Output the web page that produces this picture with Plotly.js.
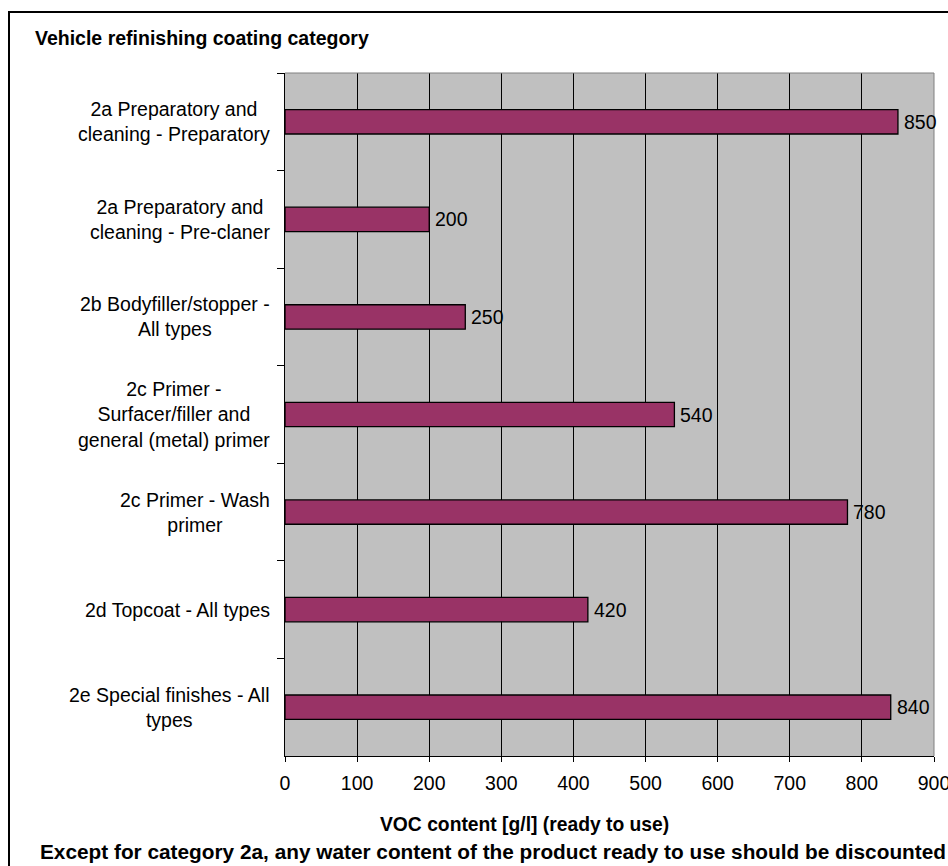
<!DOCTYPE html>
<html>
<head>
<meta charset="utf-8">
<script src="https://cdn.plot.ly/plotly-3.0.1.min.js"></script>
<style>
  html, body { margin: 0; padding: 0; background: #ffffff; overflow: hidden; }
  #chart { width: 948px; height: 866px; }
</style>
</head>
<body>
<div id="chart"></div>
<script>
// Maximum VOC content per vehicle refinishing coating category
const categories = [
  "2a Preparatory and<br>cleaning - Preparatory",
  "2a Preparatory and<br>cleaning - Pre-claner",
  "2b Bodyfiller/stopper -<br>All types",
  "2c Primer -<br>Surfacer/filler and<br>general (metal) primer",
  "2c Primer - Wash<br>primer",
  "2d Topcoat - All types",
  "2e Special finishes - All<br>types"
];
const vocValues = [850, 200, 250, 540, 780, 420, 840];
const xTickValues = [0, 100, 200, 300, 400, 500, 600, 700, 800, 900];

const chartTitle = "Vehicle refinishing coating category";
const xAxisTitle = "VOC content [g/l] (ready to use)";
const footnote = "Except for category 2a, any water content of the product ready to use should be discounted";

const FONT = "Arial, 'Liberation Sans', sans-serif";

const W = 948, H = 866;
const M = { l: 285, r: 14, t: 73, b: 110 };
const plotW = W - M.l - M.r;
const plotH = H - M.t - M.b;
// helpers converting page pixels into paper coordinates
const px = x => (x - M.l) / plotW;
const py = y => (H - M.b - y) / plotH;

const trace = {
  type: "bar",
  orientation: "h",
  x: vocValues,
  y: categories,
  width: 0.25,
  marker: { color: "#993366", line: { color: "#000000", width: 1.3 } },
  cliponaxis: false,
  hoverinfo: "x+y"
};

// value labels just past the end of each bar
const valueLabels = vocValues.map((v, i) => ({
  xref: "x", yref: "y",
  x: v, y: categories[i],
  xanchor: "left", yanchor: "middle",
  xshift: 4,
  text: String(v),
  showarrow: false,
  font: { family: FONT, size: 19.5, color: "#000000" }
}));

// category labels, centred line by line, left of the tick marks
const catLabels = categories.map(c => ({
  xref: "paper", yref: "y",
  x: px(272), y: c,
  xanchor: "right", yanchor: "middle",
  align: "center",
  text: c,
  showarrow: false,
  font: { family: FONT, size: 19.5, color: "#000000" }
}));

const layout = {
  width: W, height: H,
  margin: M,
  paper_bgcolor: "#ffffff",
  plot_bgcolor: "#c0c0c0",
  showlegend: false,
  font: { family: FONT, size: 19, color: "#000000" },
  xaxis: {
    range: [0, 900],
    tickvals: xTickValues,
    ticktext: xTickValues.map(String),
    showgrid: true,
    gridcolor: "#000000",
    gridwidth: 1,
    zeroline: false,
    showline: true,
    linecolor: "#000000",
    linewidth: 1,
    mirror: false,
    ticks: "outside",
    ticklen: 5,
    tickcolor: "#000000",
    ticklabelstandoff: 5,
    ticklabeloverflow: "allow",
    tickfont: { family: FONT, size: 19.5, color: "#000000" },
    fixedrange: true
  },
  yaxis: {
    type: "category",
    categoryorder: "array",
    categoryarray: categories,
    range: [6.5, -0.5],
    showticklabels: false,
    showgrid: false,
    zeroline: false,
    showline: true,
    linecolor: "#000000",
    linewidth: 1,
    ticks: "outside",
    ticklen: 7,
    tickcolor: "#000000",
    tickson: "boundaries",
    fixedrange: true
  },
  shapes: [
    // outer chart frame
    {
      type: "rect", xref: "paper", yref: "paper",
      x0: px(9), x1: px(960), y0: py(880), y1: py(12),
      line: { color: "#000000", width: 2 },
      fillcolor: "rgba(0,0,0,0)",
      layer: "below"
    },
    // light edge on the top and right of the plot area
    {
      type: "path", xref: "paper", yref: "paper",
      path: "M 0 1 L 1 1 L 1 0",
      line: { color: "#808080", width: 1 }
    }
  ],
  annotations: [
    {
      xref: "paper", yref: "paper",
      x: px(33), y: py(38),
      xanchor: "left", yanchor: "middle",
      text: "<b>" + chartTitle + "</b>",
      showarrow: false,
      font: { family: FONT, size: 19.5, color: "#000000" }
    },
    {
      xref: "paper", yref: "paper",
      x: px(524), y: py(824),
      xanchor: "center", yanchor: "middle",
      text: "<b>" + xAxisTitle + "</b>",
      showarrow: false,
      font: { family: FONT, size: 19.3, color: "#000000" }
    },
    {
      xref: "paper", yref: "paper",
      x: px(492.5), y: py(851),
      xanchor: "center", yanchor: "middle",
      text: "<b>" + footnote + "</b>",
      showarrow: false,
      font: { family: FONT, size: 20.8, color: "#000000" }
    }
  ].concat(catLabels, valueLabels)
};

Plotly.newPlot("chart", [trace], layout, { displayModeBar: false, staticPlot: true });
</script>
</body>
</html>
